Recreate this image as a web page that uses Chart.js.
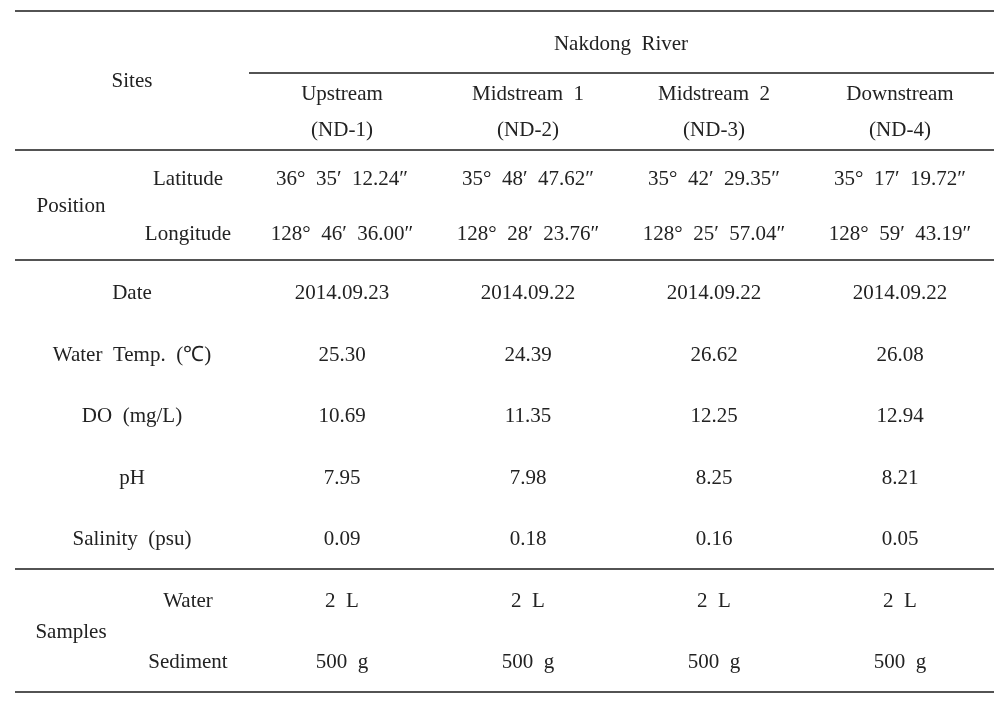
<!DOCTYPE html>
<html>
<head>
<meta charset="utf-8">
<script src="https://cdn.jsdelivr.net/npm/chart.js@4/dist/chart.umd.min.js"></script>
<style>
html,body{margin:0;padding:0;background:#fff;}
#wrap{width:1007px;height:703px;position:relative;}
</style>
</head>
<body>
<div id="wrap"><canvas id="c" width="1007" height="703"></canvas></div>
<script>
// ---- data ----
const riverName = 'Nakdong  River';
const headerLabel = 'Sites';
const sites = ['Upstream', 'Midstream  1', 'Midstream  2', 'Downstream'];
const siteCodes = ['(ND-1)', '(ND-2)', '(ND-3)', '(ND-4)'];
const positionLabel = 'Position';
const latitudeLabel = 'Latitude';
const longitudeLabel = 'Longitude';
const latitude = ['36°  35′  12.24″', '35°  48′  47.62″', '35°  42′  29.35″', '35°  17′  19.72″'];
const longitude = ['128°  46′  36.00″', '128°  28′  23.76″', '128°  25′  57.04″', '128°  59′  43.19″'];
const paramLabels = ['Date', 'Water  Temp.  (℃)', 'DO  (mg/L)', 'pH', 'Salinity  (psu)'];
const dates = ['2014.09.23', '2014.09.22', '2014.09.22', '2014.09.22'];
const waterTemp = [25.30, 24.39, 26.62, 26.08];
const dissolvedO2 = [10.69, 11.35, 12.25, 12.94];
const pH = [7.95, 7.98, 8.25, 8.21];
const salinity = [0.09, 0.18, 0.16, 0.05];
const samplesLabel = 'Samples';
const sampleTypes = ['Water', 'Sediment'];
const waterSample = ['2  L', '2  L', '2  L', '2  L'];
const sedimentSample = ['500  g', '500  g', '500  g', '500  g'];

// ---- layout (positions in scale units) ----
const colX = [342, 528, 714, 900];
const labelX = 132, groupX = 71, subX = 188, riverX = 621;
const rowY = {
  river: 44, sites: 81, site: 94, code: 130,
  lat: 179, pos: 206, lon: 234,
  params: [293, 355, 416, 478, 539],
  water: 601, samples: 632, sediment: 662
};
const rules = [
  [11, 15, 994], [73, 249, 994], [150, 15, 994],
  [260, 15, 994], [569, 15, 994], [692, 15, 994]
];

// ---- build cells ----
const cells = [];
function add(x, y, t) { cells.push({x: x, y: y, t: String(t)}); }
add(riverX, rowY.river, riverName);
add(labelX, rowY.sites, headerLabel);
sites.forEach((s, i) => add(colX[i], rowY.site, s));
siteCodes.forEach((s, i) => add(colX[i], rowY.code, s));
add(groupX, rowY.pos, positionLabel);
add(subX, rowY.lat, latitudeLabel);
add(subX, rowY.lon, longitudeLabel);
latitude.forEach((s, i) => add(colX[i], rowY.lat, s));
longitude.forEach((s, i) => add(colX[i], rowY.lon, s));
const paramRows = [dates, waterTemp.map(v => v.toFixed(2)), dissolvedO2.map(v => v.toFixed(2)),
                   pH.map(v => v.toFixed(2)), salinity.map(v => v.toFixed(2))];
paramLabels.forEach((l, r) => {
  add(labelX, rowY.params[r], l);
  paramRows[r].forEach((v, i) => add(colX[i], rowY.params[r], v));
});
add(groupX, rowY.samples, samplesLabel);
add(subX, rowY.water, sampleTypes[0]);
add(subX, rowY.sediment, sampleTypes[1]);
waterSample.forEach((s, i) => add(colX[i], rowY.water, s));
sedimentSample.forEach((s, i) => add(colX[i], rowY.sediment, s));

const datasets = rules.map(r => ({
  type: 'line',
  data: [{x: r[1], y: r[0]}, {x: r[2], y: r[0]}],
  borderColor: '#1a1a1a', borderWidth: 1.3, pointRadius: 0, showLine: true, fill: false
}));
datasets.push({type: 'scatter', isText: true, data: cells, pointRadius: 0, pointHoverRadius: 0});

const textPlugin = {
  id: 'cellText',
  afterDatasetsDraw(chart) {
    const ctx = chart.ctx;
    chart.data.datasets.forEach((ds, di) => {
      if (!ds.isText) return;
      const meta = chart.getDatasetMeta(di);
      ctx.save();
      ctx.fillStyle = '#222';
      ctx.font = '21px "Liberation Serif", "Times New Roman", serif';
      ctx.textAlign = 'center';
      ctx.textBaseline = 'middle';
      meta.data.forEach((el, i) => ctx.fillText(ds.data[i].t, el.x, el.y));
      ctx.restore();
    });
  }
};

new Chart(document.getElementById('c'), {
  type: 'scatter',
  data: {datasets: datasets},
  options: {
    responsive: false,
    animation: false,
    events: [],
    layout: {padding: 0},
    plugins: {legend: {display: false}, tooltip: {enabled: false}},
    scales: {
      x: {type: 'linear', min: 0, max: 1007, display: false},
      y: {type: 'linear', min: 0, max: 703, reverse: true, display: false}
    }
  },
  plugins: [textPlugin]
});
</script>
</body>
</html>
